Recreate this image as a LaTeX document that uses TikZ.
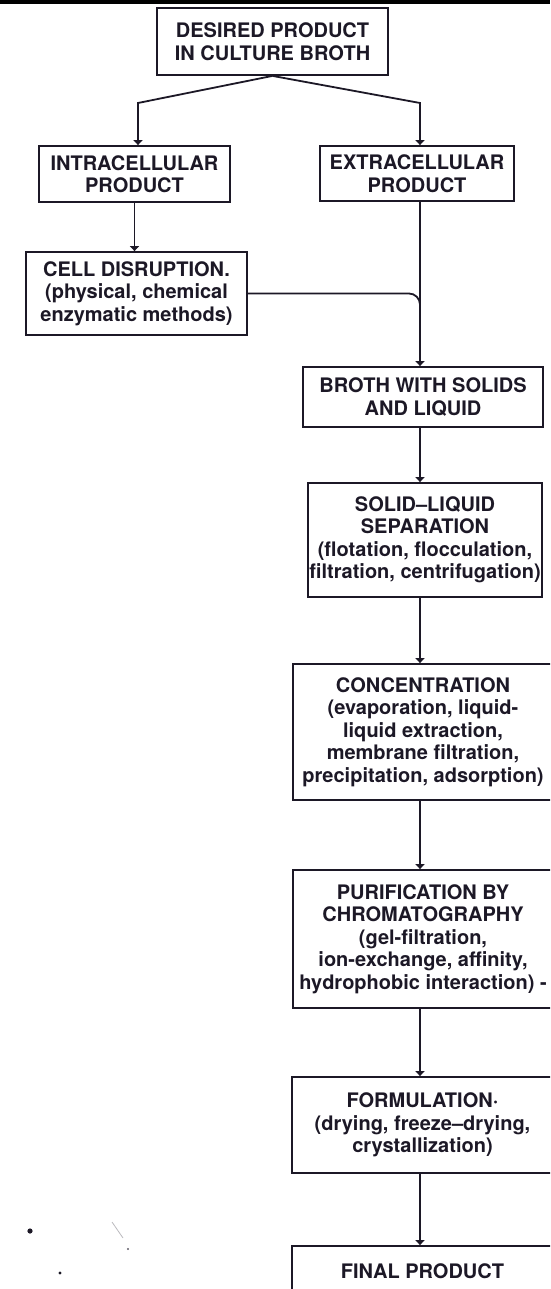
\documentclass[tikz,border=0pt]{standalone}
\usepackage{fontspec}
\setmainfont{TeX Gyre Heros}
\usepackage{tikz}
\usetikzlibrary{arrows.meta}
\definecolor{inkdark}{RGB}{28,24,38}
\tikzset{
  stagebox/.style={
    draw=inkdark,
    line width=1.8pt,
    align=center,
    inner sep=0pt,
    text=inkdark,
    font=\bfseries\fontsize{20}{22.5}\selectfont
  },
  flowarrow/.style={-{Triangle[width=9pt,length=5pt]},line width=1.8pt,draw=inkdark},
  flowline/.style={line width=1.8pt,draw=inkdark},
}

\begin{document}
\begin{tikzpicture}[x=1pt,y=-1pt]
  \useasboundingbox (0,0) rectangle (550,1289);
  \clip (0,0) rectangle (550,1289);
  \draw[line width=3.5pt] (0,2) -- (550,2);

  \node[stagebox,minimum width=231pt,minimum height=67pt] (desired) at (272.5,41.5) {DESIRED PRODUCT\\IN CULTURE BROTH};
  \node[stagebox,minimum width=191pt,minimum height=56pt] (intra) at (134.5,174) {INTRACELLULAR\\PRODUCT};
  \node[stagebox,minimum width=194pt,minimum height=55pt] (extra) at (417,173.5) {EXTRACELLULAR\\PRODUCT};
  \node[stagebox,minimum width=221pt,minimum height=83pt] (disrupt) at (136.5,293.5) {CELL DISRUPTION.\\(physical, chemical\\enzymatic methods)};
  \node[stagebox,minimum width=240pt,minimum height=60pt] (solids) at (423,397) {BROTH WITH SOLIDS\\AND LIQUID};
  \node[stagebox,minimum width=234pt,minimum height=114pt] (separation) at (425,540) {SOLID–LIQUID\\SEPARATION\\(flotation, flocculation,\\filtration, centrifugation)};
  \node[stagebox,minimum width=260pt,minimum height=136pt] (concentration) at (423,732) {CONCENTRATION\\(evaporation, liquid-\\liquid extraction,\\membrane filtration,\\precipitation, adsorption)};
  \node[stagebox,minimum width=260pt,minimum height=138pt] (purification) at (423,939) {PURIFICATION BY\\CHROMATOGRAPHY\\(gel-filtration,\\ion-exchange, affinity,\\hydrophobic interaction) -};
  \node[stagebox,minimum width=261pt,minimum height=96pt] (formulation) at (422.5,1125) {FORMULATION·\\(drying, freeze–drying,\\crystallization)};
  \node[stagebox,minimum width=261pt,minimum height=50pt] (final) at (422.5,1271) {FINAL PRODUCT};

  \coordinate (leftbend) at (138,103);
  \coordinate (rightbend) at (420,103);
  \draw[flowarrow] (desired.south) -- (leftbend) -- (leftbend |- intra.north);
  \draw[flowarrow] (desired.south) -- (rightbend) -- (rightbend |- extra.north);
  \draw[flowarrow] (intra.south) -- (intra.south |- disrupt.north);
  \draw[flowline,rounded corners=11pt] (disrupt.east) -- (rightbend |- disrupt.east) -- ++(0,24);
  \draw[flowarrow] (rightbend |- extra.south) -- (rightbend |- solids.north);
  \draw[flowarrow] (rightbend |- solids.south) -- (rightbend |- separation.north);
  \draw[flowarrow] (rightbend |- separation.south) -- (rightbend |- concentration.north);
  \draw[flowarrow] (rightbend |- concentration.south) -- (rightbend |- purification.north);
  \draw[flowarrow] (rightbend |- purification.south) -- (rightbend |- formulation.north);
  \draw[flowarrow] (rightbend |- formulation.south) -- (rightbend |- final.north);

  % specks of the scan
  \fill[inkdark] (30,1231) circle (2.6pt);
  \fill[inkdark] (60,1273) circle (1.6pt);
  \fill[inkdark!70] (128,1249) circle (1.2pt);
  \draw[inkdark!30,line width=0.8pt] (112,1222) -- (123,1238);
\end{tikzpicture}
\end{document}
